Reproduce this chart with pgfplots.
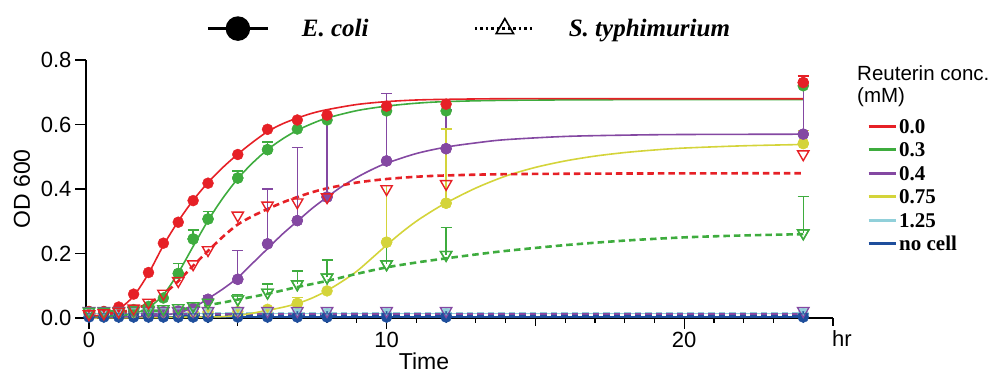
\documentclass[border=0pt]{standalone}
\usepackage{fontspec}
\setmainfont{Liberation Serif}
\setsansfont{Liberation Sans}
\usepackage{pgfplots}
\pgfplotsset{compat=1.18}
\usepackage{pgfplotstable}

\definecolor{cR}{RGB}{230,32,38}
\definecolor{cG}{RGB}{62,172,62}
\definecolor{cP}{RGB}{132,72,162}
\definecolor{cY}{RGB}{212,212,58}
\definecolor{cC}{RGB}{145,208,218}
\definecolor{cB}{RGB}{30,78,156}

% ---------- E. coli data (filled circles) ----------
\pgfplotstableread{
t y
0 0.020
0.5 0.020
1 0.034
1.5 0.074
2 0.141
2.5 0.232
3 0.297
3.5 0.364
4 0.418
5 0.507
6 0.585
7 0.614
8 0.629
10 0.657
12 0.663
24 0.730
}\ecR
\pgfplotstableread{
t y
0 0.020
0.5 0.020
1 0.022
1.5 0.026
2 0.036
2.5 0.062
3 0.138
3.5 0.245
4 0.307
5 0.434
6 0.522
7 0.586
8 0.614
10 0.642
12 0.642
24 0.720
}\ecG
\pgfplotstableread{
t y
0 0.020
0.5 0.018
1 0.018
1.5 0.020
2 0.020
2.5 0.020
3 0.022
3.5 0.030
4 0.058
5 0.120
6 0.230
7 0.302
8 0.375
10 0.487
12 0.525
24 0.570
}\ecP
\pgfplotstableread{
t y
0 0.016
0.5 0.016
1 0.017
1.5 0.017
2 0.018
2.5 0.018
3 0.018
3.5 0.019
4 0.019
5 0.020
6 0.027
7 0.045
8 0.084
10 0.235
12 0.356
24 0.541
}\ecY
\pgfplotstableread{
t y
0 0.013
0.5 0.013
1 0.013
1.5 0.013
2 0.013
2.5 0.013
3 0.013
3.5 0.013
4 0.013
5 0.013
6 0.013
7 0.013
8 0.013
10 0.013
12 0.013
24 0.013
}\ecC
\pgfplotstableread{
t y
0 0.003
0.5 0.003
1 0.003
1.5 0.003
2 0.003
2.5 0.003
3 0.003
3.5 0.003
4 0.003
5 0.003
6 0.003
7 0.003
8 0.003
10 0.003
12 0.003
24 0.003
}\ecB

% ---------- S. typhimurium data (open triangles) ----------
\pgfplotstableread{
t y
0 0.012
0.5 0.015
1 0.020
1.5 0.030
2 0.048
2.5 0.076
3 0.115
3.5 0.167
4 0.211
5 0.318
6 0.349
7 0.359
8 0.375
10 0.400
12 0.416
24 0.508
}\stR
\pgfplotstableread{
t y
0 0.020
0.5 0.020
1 0.020
1.5 0.024
2 0.026
2.5 0.028
3 0.031
3.5 0.037
4 0.048
5 0.058
6 0.079
7 0.105
8 0.126
10 0.167
12 0.196
24 0.263
}\stG
\pgfplotstableread{
t y
0 0.022
0.5 0.022
1 0.022
1.5 0.022
2 0.022
2.5 0.022
3 0.022
3.5 0.022
4 0.022
5 0.022
6 0.022
7 0.022
8 0.022
10 0.022
12 0.022
24 0.022
}\stP
\pgfplotstableread{
t y
0 0.004
0.5 0.004
1 0.004
1.5 0.004
2 0.004
2.5 0.004
3 0.004
3.5 0.004
4 0.004
5 0.004
6 0.004
7 0.004
8 0.004
10 0.004
12 0.004
24 0.004
}\stB

% ---------- error bars (upper only) ----------
\pgfplotstableread{
t y e
24 0.730 0.020
}\erR
\pgfplotstableread{
t y e
3 0.138 0.030
3.5 0.245 0.028
4 0.307 0.024
5 0.434 0.022
6 0.522 0.024
}\erG
\pgfplotstableread{
t y e
4 0.058 0.012
5 0.120 0.090
6 0.230 0.170
7 0.302 0.227
8 0.375 0.250
10 0.487 0.210
12 0.525 0.120
24 0.570 0.150
}\erP
\pgfplotstableread{
t y e
7 0.045 0.018
10 0.235 0.175
12 0.356 0.230
24 0.541 0.040
}\erY
\pgfplotstableread{
t y e
5 0.058 0.015
6 0.079 0.026
7 0.105 0.041
8 0.126 0.054
10 0.167 0.068
12 0.196 0.085
24 0.263 0.114
}\erSG

% ---------- fitted curves ----------
\pgfplotstableread{
t y
0 0.005
0.5 0.011
1 0.028
1.5 0.068
2 0.138
2.5 0.225
3 0.300
3.5 0.365
4 0.420
4.5 0.467
5 0.508
5.5 0.545
6 0.578
6.5 0.602
7 0.620
7.5 0.635
8 0.646
9 0.662
10 0.671
11 0.676
12 0.678
14 0.680
18 0.680
24 0.680
}\fR
\pgfplotstableread{
t y
0 0.004
1 0.007
1.5 0.014
2 0.032
2.5 0.072
3 0.140
3.5 0.222
4 0.302
4.5 0.372
5 0.432
5.5 0.481
6 0.522
6.5 0.555
7 0.582
7.5 0.603
8 0.620
9 0.643
10 0.657
11 0.666
12 0.671
14 0.675
18 0.677
24 0.677
}\fG
\pgfplotstableread{
t y
0 0.002
2 0.005
2.5 0.009
3 0.016
3.5 0.032
4 0.060
4.5 0.090
5 0.125
5.5 0.170
6 0.215
6.5 0.260
7 0.300
7.5 0.340
8 0.375
8.5 0.408
9 0.436
9.5 0.460
10 0.480
11 0.510
12 0.530
13 0.543
14 0.553
16 0.563
18 0.567
20 0.569
24 0.570
}\fP
\pgfplotstableread{
t y
0 0.000
4 0.003
5 0.008
5.5 0.015
6 0.024
6.5 0.033
7 0.045
7.5 0.062
8 0.085
8.5 0.113
9 0.145
9.5 0.185
10 0.226
10.5 0.265
11 0.300
11.5 0.330
12 0.357
13 0.403
14 0.440
15 0.467
16 0.487
17 0.502
18 0.513
19 0.521
20 0.527
22 0.534
24 0.538
}\fY
\pgfplotstableread{
t y
0 0.010
1 0.017
1.5 0.027
2 0.045
2.5 0.074
3 0.114
3.5 0.162
4 0.208
4.5 0.252
5 0.290
5.5 0.316
6 0.338
6.5 0.358
7 0.375
7.5 0.390
8 0.402
9 0.420
10 0.431
11 0.438
12 0.442
14 0.446
18 0.448
24 0.449
}\fsR
\pgfplotstableread{
t y
0 0.020
2 0.022
3 0.027
3.5 0.032
4 0.040
4.5 0.048
5 0.057
6 0.075
7 0.096
8 0.115
9 0.137
10 0.157
11 0.172
12 0.185
13 0.197
14 0.208
16 0.226
18 0.240
20 0.250
22 0.256
24 0.260
}\fsG

\pgfplotsset{
  errc/.style={forget plot, only marks, mark=*, mark size=5.5bp, #1,
    error bars/.cd, y dir=plus, y explicit, error mark=-,
    error bar style={#1, line width=1.3bp},
    error mark options={#1, mark size=5.5bp, line width=1.3bp, rotate=90}},
  errt/.style={forget plot, only marks, mark=triangle, mark size=6.5bp, #1,
    mark options={rotate=180, fill=white, line width=1.4bp},
    error bars/.cd, y dir=plus, y explicit, error mark=-,
    error bar style={#1, line width=1.3bp},
    error mark options={#1, mark size=5.5bp, line width=1.3bp, rotate=90}},
}

\begin{document}
\begin{tikzpicture}
\path[use as bounding box] (0,0) rectangle (992bp,376bp);

\begin{axis}[
  at={(86bp,58bp)}, anchor=south west,
  scale only axis, width=747bp, height=258bp,
  xmin=-0.1, xmax=25, ymin=0, ymax=0.8,
  clip=false,
  axis x line*=bottom, axis y line*=left,
  axis line style={line width=1.4bp},
  xtick={0,10,20},
  minor xtick={1,2,3,4,6,7,8,9,11,12,13,14,16,17,18,19,21,22,23,24},
  extra x ticks={5,15,25}, extra x tick labels={},
  extra x tick style={major tick length=8bp},
  ytick={0,0.2,0.4,0.6,0.8},
  yticklabel style={/pgf/number format/.cd, fixed, fixed zerofill, precision=1},
  /pgf/number format/assume math mode=true,
  tick align=outside, major tick length=11bp, minor tick length=5bp,
  tick style={black, line width=1.2bp},
  ticklabel style={font=\sffamily\fontsize{22bp}{22bp}\selectfont},
  legend cell align=left,
  legend image code/.code={\draw[#1, line width=3bp] (0bp,1.5bp) -- (27bp,1.5bp);},
  legend style={draw=none, fill=none, at={(axis description cs:1.0455,0.782)},
    anchor=north west, inner sep=0pt, row sep=0.4bp,
    font=\bfseries\fontsize{21bp}{25bp}\selectfont,
    nodes={inner sep=2bp, text height=15bp, text depth=4bp}},
]
\addlegendimage{cR}\addlegendentry{0.0}
\addlegendimage{cG}\addlegendentry{0.3}
\addlegendimage{cP}\addlegendentry{0.4}
\addlegendimage{cY}\addlegendentry{0.75}
\addlegendimage{cC}\addlegendentry{1.25}
\addlegendimage{cB}\addlegendentry{no cell}

% baseline curves
\addplot[forget plot, cC, line width=1.6bp] coordinates {(0,0.014) (24,0.014)};
\addplot[forget plot, cB, line width=1.6bp] coordinates {(0,0.003) (24,0.003)};
\addplot[forget plot, cY, line width=2.4bp, dash pattern=on 6.5bp off 4bp] coordinates {(0,0.010) (24,0.010)};
\addplot[forget plot, cC, line width=2.4bp, dash pattern=on 6.5bp off 4bp] coordinates {(0,0.016) (24,0.016)};
\addplot[forget plot, cP, line width=2.4bp, dash pattern=on 6.5bp off 4bp] coordinates {(0,0.012) (24,0.012)};
\addplot[forget plot, cB, line width=2.4bp, dash pattern=on 6.5bp off 4bp] coordinates {(0,0.005) (24,0.005)};

% E. coli fits
\addplot[forget plot, cY, line width=1.6bp, smooth] table[x=t,y=y]{\fY};
\addplot[forget plot, cP, line width=1.6bp, smooth] table[x=t,y=y]{\fP};
\addplot[forget plot, cG, line width=1.6bp, smooth] table[x=t,y=y]{\fG};
\addplot[forget plot, cR, line width=1.6bp, smooth] table[x=t,y=y]{\fR};
% S. typhimurium fits
\addplot[forget plot, cG, line width=2.6bp, dash pattern=on 6.5bp off 4bp, smooth] table[x=t,y=y]{\fsG};
\addplot[forget plot, cR, line width=2.6bp, dash pattern=on 6.5bp off 4bp, smooth] table[x=t,y=y]{\fsR};

% error bars (with their points; points are redrawn on top below)
\addplot[errc=cG] table[x=t,y=y,y error=e]{\erG};
\addplot[errc=cP] table[x=t,y=y,y error=e]{\erP};
\addplot[errc=cY] table[x=t,y=y,y error=e]{\erY};
\addplot[errc=cR] table[x=t,y=y,y error=e]{\erR};
\addplot[errt=cG] table[x=t,y=y,y error=e]{\erSG};

% E. coli markers
\addplot[forget plot, only marks, mark=*, mark size=5.5bp, cC] table[x=t,y=y]{\ecC};
\addplot[forget plot, only marks, mark=*, mark size=5.5bp, cB] table[x=t,y=y]{\ecB};
\addplot[forget plot, only marks, mark=*, mark size=5.5bp, cY] table[x=t,y=y]{\ecY};
\addplot[forget plot, only marks, mark=*, mark size=5.5bp, cP] table[x=t,y=y]{\ecP};
\addplot[forget plot, only marks, mark=*, mark size=5.5bp, cG] table[x=t,y=y]{\ecG};
\addplot[forget plot, only marks, mark=*, mark size=5.5bp, cR] table[x=t,y=y]{\ecR};

% S. typhimurium markers
\addplot[forget plot, only marks, mark=triangle, mark size=6.5bp, cP, mark options={rotate=180, fill=white, line width=1.4bp}] table[x=t,y=y]{\stP};
\addplot[forget plot, only marks, mark=triangle, mark size=4bp, cC, mark options={rotate=180, fill=cC, line width=1bp}] table[x=t,y=y]{\stP};
\addplot[forget plot, only marks, mark=triangle, mark size=5.5bp, cB, mark options={rotate=180, fill=cB, line width=1bp}] table[x=t,y=y]{\stB};
\addplot[forget plot, only marks, mark=triangle, mark size=6.5bp, cG, mark options={rotate=180, fill=white, line width=1.4bp}] table[x=t,y=y]{\stG};
\addplot[forget plot, only marks, mark=triangle, mark size=6.5bp, cR, mark options={rotate=180, fill=white, line width=1.4bp}] table[x=t,y=y]{\stR};
\end{axis}

% overlay axis for the top legend
\begin{axis}[
  at={(86bp,58bp)}, anchor=south west,
  scale only axis, width=747bp, height=258bp,
  xmin=0, xmax=1, ymin=0, ymax=1, hide axis,
  legend columns=2,
  legend image code/.code={\draw[mark repeat=2,mark phase=2,#1] plot coordinates {(0bp,0bp) (30bp,0bp) (60bp,0bp)}; \path[draw=none] (0bp,0bp) -- (92bp,0bp);},
  legend style={draw=none, fill=none, at={(axis description cs:0.1606,1.1217)},
    anchor=west, inner sep=0pt,
    font=\bfseries\itshape\fontsize{25bp}{29bp}\selectfont,
    nodes={inner sep=2bp, text height=18bp, text depth=3bp},
    /tikz/every even column/.append style={column sep=103bp}},
]
\addlegendimage{black, line width=3.5bp, mark=*, mark size=10.5bp, mark options={solid}}
\addlegendentry{E. coli}
\addlegendimage{black, line width=2.5bp, dash pattern=on 2.5bp off 3bp, mark=triangle, mark size=10bp, mark options={solid, fill=white, line width=1.6bp}}
\addlegendentry{S. typhimurium}
\end{axis}

% axis titles and other text
\node[rotate=90, font=\sffamily\fontsize{23bp}{23bp}\selectfont] at (22bp,187bp) {OD 600};
\node[font=\sffamily\fontsize{23bp}{23bp}\selectfont] at (424bp,15bp) {Time};
\node[font=\sffamily\fontsize{22bp}{22bp}\selectfont] at (842bp,37bp) {hr};
\node[anchor=base west, inner sep=0pt, font=\sffamily\fontsize{20.5bp}{22bp}\selectfont] at (857bp,295bp) {Reuterin conc.};
\node[anchor=base west, inner sep=0pt, font=\sffamily\fontsize{20.5bp}{22bp}\selectfont] at (857bp,273bp) {(mM)};
\end{tikzpicture}
\end{document}
